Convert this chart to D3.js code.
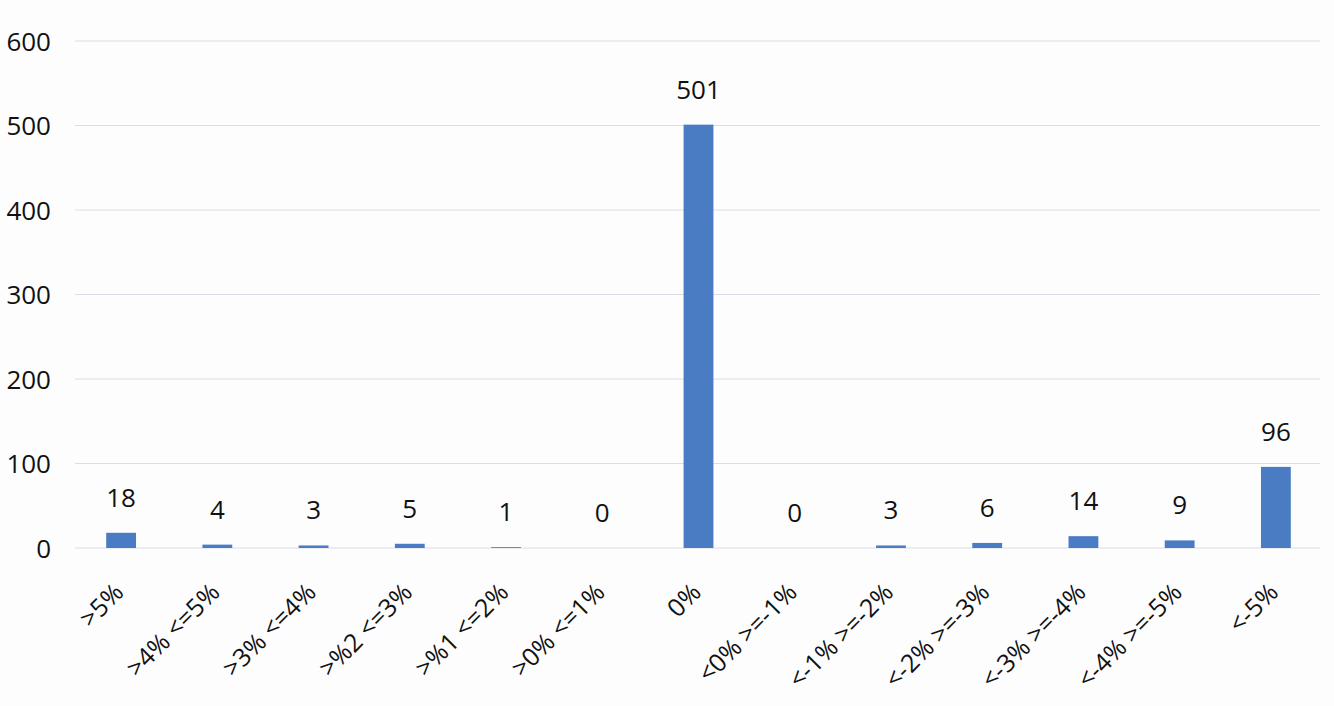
<!DOCTYPE html>
<html><head><meta charset="utf-8">
<script src="https://cdn.jsdelivr.net/npm/d3@7"></script>
<style>body{margin:0;background:#fdfdfe;}svg{display:block;}</style>
</head><body><svg id="c" width="1334" height="706"></svg>
<script>
const categories = [">5%", ">4% <=5%", ">3% <=4%", ">%2 <=3%", ">%1 <=2%", ">0% <=1%", "0%", "<0% >=-1%", "<-1% >=-2%", "<-2% >=-3%", "<-3% >=-4%", "<-4% >=-5%", "<-5%"];
const values = [18, 4, 3, 5, 1, 0, 501, 0, 3, 6, 14, 9, 96];
const yTicks = [0, 100, 200, 300, 400, 500, 600];

const svg = d3.select("#c");
const font = "Open Sans, Lato, sans-serif";
const x = d3.scaleBand().domain(categories).range([73, 1324]).paddingInner(0.69).paddingOuter(0.345);
const y = d3.scaleLinear().domain([0, 600]).range([548, 41]);

// gridlines
svg.append("g").selectAll("line").data(yTicks).join("line")
  .attr("x1", 75).attr("x2", 1320)
  .attr("y1", d => y(d)).attr("y2", d => y(d))
  .attr("stroke", "#d9dde6").attr("stroke-width", 1);

// y axis labels
const yAxis = d3.axisLeft(y).tickValues(yTicks).tickSize(0).tickPadding(0);
const gy = svg.append("g").attr("transform", "translate(51,0)").call(yAxis);
gy.select(".domain").remove();
gy.selectAll("text").attr("font-family", font).attr("font-size", 26).attr("fill", "#111").attr("dy", "0.35em");

// bars
svg.append("g").selectAll("rect").data(values).join("rect")
  .attr("x", (d, i) => x(categories[i]))
  .attr("width", x.bandwidth())
  .attr("y", d => y(d))
  .attr("height", d => y(0) - y(d))
  .attr("fill", "#4a7cc4");

// value labels
svg.append("g").selectAll("text").data(values).join("text")
  .attr("x", (d, i) => x(categories[i]) + x.bandwidth() / 2)
  .attr("y", d => y(d) - 26)
  .attr("text-anchor", "middle")
  .attr("font-family", font).attr("font-size", 26).attr("fill", "#111")
  .text(d => d);

// x axis labels
const xAxis = d3.axisBottom(x).tickSize(0).tickPadding(0);
const gx = svg.append("g").attr("transform", "translate(0,548)").call(xAxis);
gx.select(".domain").remove();
gx.selectAll("text")
  .attr("font-family", font).attr("font-size", 25).attr("fill", "#111")
  .attr("text-anchor", "end")
  .attr("dy", null).attr("y", 0)
  .attr("transform", "translate(4,46) rotate(-45)");
</script></body></html>
